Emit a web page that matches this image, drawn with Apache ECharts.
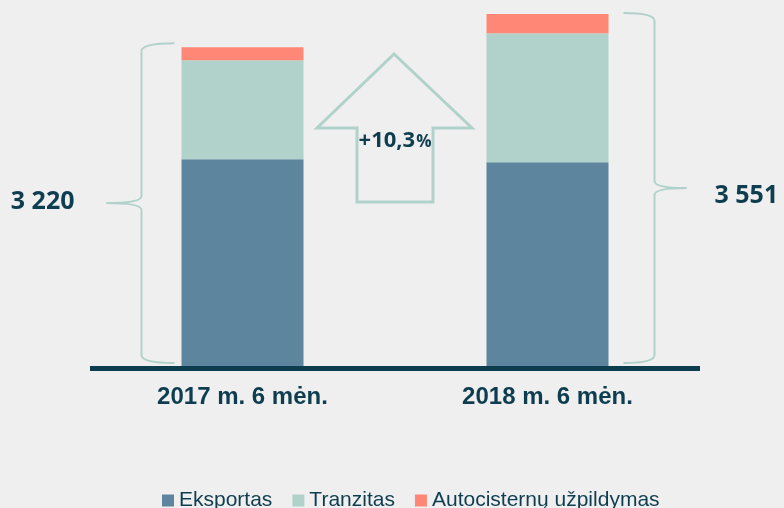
<!DOCTYPE html>
<html>
<head>
<meta charset="utf-8">
<script src="https://cdn.jsdelivr.net/npm/echarts@6/dist/echarts.min.js"></script>
<style>
  html, body { margin: 0; padding: 0; background: #efefef; }
  #chart { width: 784px; height: 508px; }
</style>
</head>
<body>
<div id="chart"></div>
<script>
var categories = ['2017 m. 6 mėn.', '2018 m. 6 mėn.']
var eksportas = [2105, 2075]
var tranzitas = [985, 1285]
var autocisternos = [130, 191]
var growthLabel = '+10,3'

var dark = '#0e3d4f'
var braceColor = '#b1d2ca'

var chart = echarts.init(document.getElementById('chart'))

// sumos virš skliaustų
var totals = categories.map(function (c, i) {
  return eksportas[i] + tranzitas[i] + autocisternos[i]
})
function fmt(v) {
  return String(v).replace(/\B(?=(\d{3})+(?!\d))/g, ' ')
}

chart.setOption({
  backgroundColor: '#efefef',
  animation: false,
  grid: {
    left: 90,
    right: 84,
    top: 9,
    bottom: 137
  },
  legend: {
    left: 157,
    top: 485,
    icon: 'rect',
    itemWidth: 12,
    itemHeight: 12,
    itemGap: 20,
    selectedMode: false,
    textStyle: {
      fontFamily: 'Liberation Sans',
      fontSize: 21,
      color: dark
    },
    data: ['Eksportas', 'Tranzitas', 'Autocisternų užpildymas']
  },
  xAxis: {
    type: 'category',
    data: categories,
    offset: -2.5,
    z: 5,
    axisLine: {
      lineStyle: { color: '#0b3d4f', width: 5, cap: 'butt' }
    },
    axisTick: { show: false },
    axisLabel: {
      margin: 17,
      fontFamily: 'Liberation Sans',
      fontWeight: 'bold',
      fontSize: 24,
      color: dark
    }
  },
  yAxis: {
    type: 'value',
    min: 0,
    max: 3600,
    show: false
  },
  series: [{
    name: 'Eksportas',
    type: 'bar',
    stack: 'total',
    barWidth: '40%',
    itemStyle: { color: '#5e859e' },
    data: eksportas
  }, {
    name: 'Tranzitas',
    type: 'bar',
    stack: 'total',
    itemStyle: { color: '#b1d2ca' },
    data: tranzitas
  }, {
    name: 'Autocisternų užpildymas',
    type: 'bar',
    stack: 'total',
    itemStyle: { color: '#ff8776' },
    data: autocisternos
  }]
})

// skliaustas iš kreivių ir linijų
function brace(xEnd, xv, xTip, yTop, yBot) {
  var ym = (yTop + yBot) / 2
  var st = { stroke: braceColor, lineWidth: 2, fill: null }
  function q(x1, y1, cx, cy, x2, y2) {
    return { type: 'bezierCurve', shape: { x1: x1, y1: y1, cpx1: cx, cpy1: cy, x2: x2, y2: y2 }, style: st }
  }
  function l(x1, y1, x2, y2) {
    return { type: 'line', shape: { x1: x1, y1: y1, x2: x2, y2: y2 }, style: st }
  }
  return [
    q(xEnd, yTop, xv, yTop, xv, yTop + 8),
    l(xv, yTop + 8, xv, ym - 7),
    q(xv, ym - 7, xv, ym, xTip, ym),
    q(xTip, ym, xv, ym, xv, ym + 7),
    l(xv, ym + 7, xv, yBot - 8),
    q(xv, yBot - 8, xv, yBot, xEnd, yBot)
  ]
}

var p0 = chart.convertToPixel({ gridIndex: 0 }, [0, totals[0]])
var p1 = chart.convertToPixel({ gridIndex: 0 }, [1, totals[1]])
var base = chart.convertToPixel({ gridIndex: 0 }, [0, 0])[1]
var half = 61
var yBot = base - 8

var lTop = p0[1] - 4
var rTop = p1[1] - 1
var lMid = (lTop + yBot) / 2
var rMid = (rTop + yBot) / 2
var cx = (p0[0] + p1[0]) / 2

var elements = []
  .concat(brace(p0[0] - half - 7, p0[0] - half - 40, p0[0] - half - 75, lTop, yBot))
  .concat(brace(p1[0] + half + 15, p1[0] + half + 46, p1[0] + half + 78, rTop, yBot))

elements.push({
  type: 'text',
  x: p0[0] - half - 107,
  y: lMid - 1,
  style: {
    text: fmt(totals[0]),
    align: 'right',
    verticalAlign: 'middle',
    fontFamily: 'Open Sans',
    fontWeight: 'bold',
    fontSize: 25,
    fill: dark
  }
}, {
  type: 'text',
  x: p1[0] + half + 106,
  y: rMid + 8,
  style: {
    text: fmt(totals[1]),
    align: 'left',
    verticalAlign: 'middle',
    fontFamily: 'Open Sans',
    fontWeight: 'bold',
    fontSize: 25,
    fill: dark
  }
}, {
  type: 'polygon',
  shape: {
    points: [
      [cx - 1, 54], [cx + 77, 128], [cx + 38, 128], [cx + 38, 202],
      [cx - 38, 202], [cx - 38, 128], [cx - 78, 128]
    ]
  },
  style: { fill: null, stroke: braceColor, lineWidth: 3 }
}, {
  type: 'text',
  x: cx,
  y: 141,
  style: {
    text: '{a|' + growthLabel + '}{b|%}',
    align: 'center',
    verticalAlign: 'middle',
    fill: dark,
    rich: {
      a: { fontFamily: 'Open Sans', fontWeight: 'bold', fontSize: 22, fill: dark },
      b: { fontFamily: 'Open Sans', fontWeight: 'bold', fontSize: 17, fill: dark, padding: [3, 0, 0, 1] }
    }
  }
})

chart.setOption({ graphic: elements })
</script>
</body>
</html>
